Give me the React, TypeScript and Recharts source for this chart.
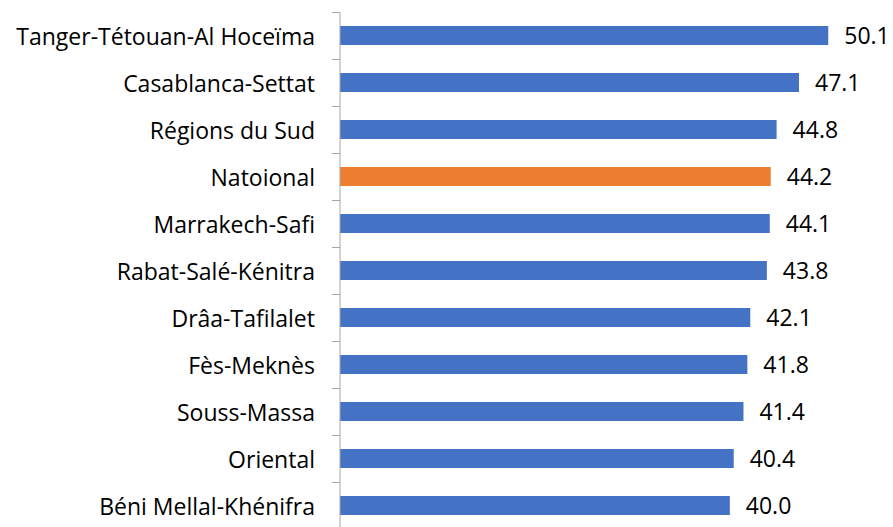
import { BarChart, Bar, XAxis, YAxis, Cell, LabelList } from 'recharts'

const regions = [
  'Tanger-Tétouan-Al Hoceïma',
  'Casablanca-Settat',
  'Régions du Sud',
  'Natoional',
  'Marrakech-Safi',
  'Rabat-Salé-Kénitra',
  'Drâa-Tafilalet',
  'Fès-Meknès',
  'Souss-Massa',
  'Oriental',
  'Béni Mellal-Khénifra',
]

const values = [50.1, 47.1, 44.8, 44.2, 44.1, 43.8, 42.1, 41.8, 41.4, 40.4, 40.0]

const highlight = 'Natoional'

const data = regions.map((name, i) => ({ name, value: values[i] }))

const BAND = 47
const FONT = '"Open Sans", Lato, sans-serif'

// Excel-style category ticks: tick marks sit on the band boundaries
const RegionTick = ({ x, y, payload }: any) => (
  <g>
    <line
      x1={x - 8}
      x2={x}
      y1={Math.round(y - BAND / 2) + 0.5}
      y2={Math.round(y - BAND / 2) + 0.5}
      stroke="#A6A6A6"
      strokeWidth={1}
    />
    <text x={x - 25} y={y} dy={9} textAnchor="end" fontSize={23} fontFamily={FONT} fill="#000">
      {payload.value}
    </text>
  </g>
)

export default function App() {
  return (
    <div style={{ position: 'fixed', top: 0, left: 0, width: 893, height: 527, overflow: 'hidden', background: '#fff' }}>
      <BarChart
        width={893}
        height={531}
        data={data}
        layout="vertical"
        margin={{ top: 12, right: 17, left: 0, bottom: 2 }}
        barSize={19}
      >
        <XAxis type="number" domain={[0, 55]} hide />
        <YAxis
          type="category"
          dataKey="name"
          width={340}
          tickSize={0}
          tickMargin={0}
          tickLine={false}
          axisLine={{ stroke: '#A6A6A6', strokeWidth: 1 }}
          tick={<RegionTick />}
          interval={0}
        />
        <Bar dataKey="value" isAnimationActive={false}>
          {data.map((d) => (
            <Cell key={d.name} fill={d.name === highlight ? '#ED7D31' : '#4472C4'} />
          ))}
          <LabelList
            dataKey="value"
            position="right"
            offset={16}
            formatter={(v: any) => Number(v).toFixed(1)}
            style={{ fontSize: 23, fontFamily: FONT, fill: '#000' }}
          />
        </Bar>
      </BarChart>
    </div>
  )
}
